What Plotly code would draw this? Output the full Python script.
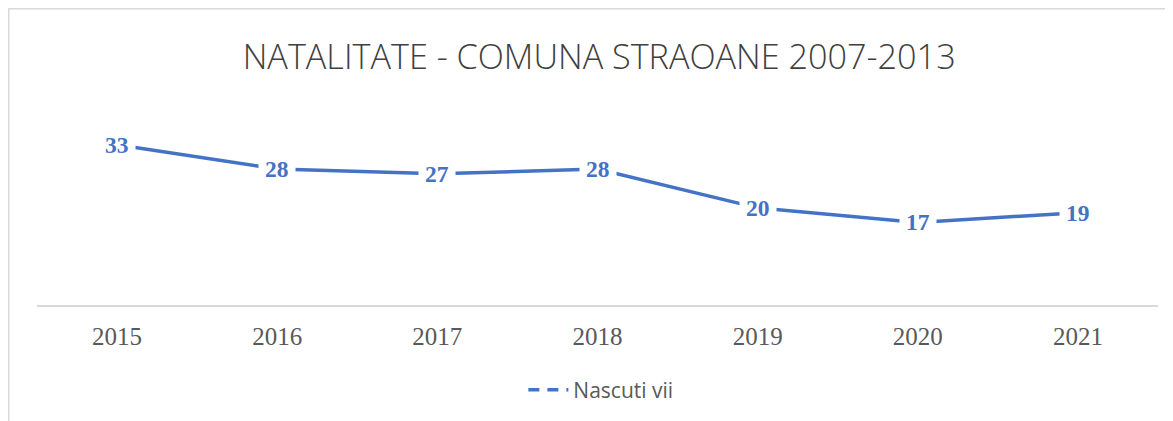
import plotly.graph_objects as go

years = ["2015", "2016", "2017", "2018", "2019", "2020", "2021"]
nascuti_vii = [33, 28, 27, 28, 20, 17, 19]
series_name = "Nascuti vii"
title_text = "NATALITATE - COMUNA STRAOANE 2007-2013"

BLUE = "#4472C4"
GREY = "#595959"

fig = go.Figure()
fig.add_trace(go.Scatter(
    x=years, y=nascuti_vii, mode="lines",
    line=dict(color=BLUE, width=3.5),
    showlegend=False, hoverinfo="skip",
))
# legend-only entry with the broken line symbol
fig.add_trace(go.Scatter(
    x=[years[0]], y=[None], mode="lines", name=series_name,
    line=dict(color=BLUE, width=3.5, dash="11px,8px"),
    showlegend=True,
))

for i, v in enumerate(nascuti_vii):
    fig.add_annotation(
        x=i, y=v, xref="x", yref="y", text=f"<b>{v}</b>",
        showarrow=False, bgcolor="white", borderpad=6,
        font=dict(family="Liberation Serif", size=23.5, color=BLUE),
    )

# outer chart border (cropped chart area)
fig.add_shape(type="rect", xref="paper", yref="paper",
              x0=-0.0252, x1=1.05, y0=-0.8, y1=1.7426,
              line=dict(color="#d9d9d9", width=1.5), fillcolor="rgba(0,0,0,0)",
              layer="below")

fig.update_layout(
    width=1173, height=421,
    margin=dict(l=29, r=23, t=127, b=124),
    paper_bgcolor="white", plot_bgcolor="white",
    title=dict(text=title_text, x=0.504, xanchor="center", y=0.884, yanchor="middle",
               font=dict(family="Open Sans", size=34.2, color="#404040", weight=300)),
    xaxis=dict(type="category", range=[-0.5, len(years) - 0.5], autorange=False,
               showline=True, linecolor="#d9d9d9", linewidth=1.5,
               showgrid=False, ticks="outside", ticklen=8, tickcolor="white",
               tickfont=dict(family="Liberation Serif", size=25, color=GREY),
               zeroline=False),
    yaxis=dict(range=[0, 35], autorange=False, visible=False, showgrid=False, zeroline=False),
    legend=dict(orientation="h", x=0.503, xanchor="center", y=-0.5, yanchor="middle",
                font=dict(family="Open Sans", size=21, color=GREY),
                itemwidth=40),
)

fig.write_html("out.html")
